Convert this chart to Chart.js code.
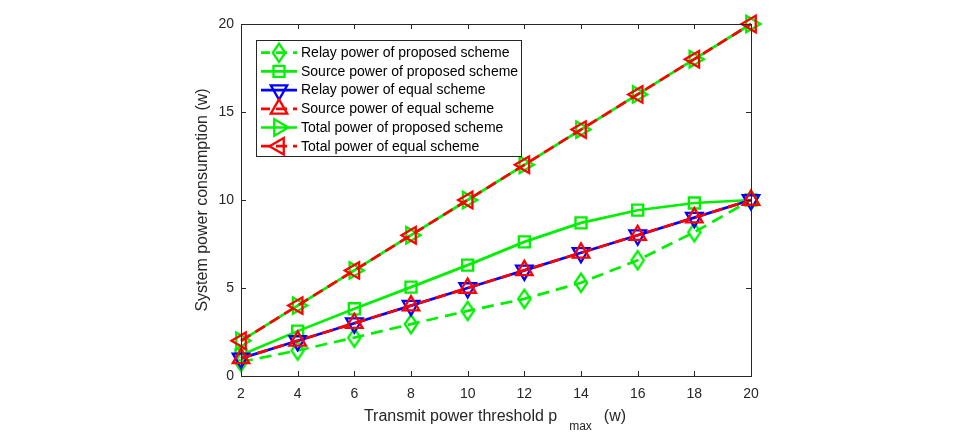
<!DOCTYPE html>
<html>
<head>
<meta charset="utf-8">
<script src="https://cdn.jsdelivr.net/npm/chart.js@4/dist/chart.umd.min.js"></script>
<style>
  html, body { margin: 0; padding: 0; background: #ffffff; }
  #wrap { width: 964px; height: 434px; position: relative; }
</style>
</head>
<body>
<div id="wrap"><canvas id="c" width="964" height="434"></canvas></div>
<script>
// ---- Data ----
const xValues = [2, 4, 6, 8, 10, 12, 14, 16, 18, 20];
const relayProposed  = [0.8, 1.45, 2.18, 2.95, 3.7, 4.38, 5.3, 6.58, 8.17, 10];
const sourceProposed = [1.2, 2.55, 3.82, 5.05, 6.3, 7.62, 8.7, 9.42, 9.83, 10];
const relayEqual     = [1, 2, 3, 4, 5, 6, 7, 8, 9, 10];
const sourceEqual    = [1, 2, 3, 4, 5, 6, 7, 8, 9, 10];
const totalProposed  = [2, 4, 6, 8, 10, 12, 14, 16, 18, 20];
const totalEqual     = [2, 4, 6, 8, 10, 12, 14, 16, 18, 20];
const seriesLabels = [
  'Relay power of proposed scheme',
  'Source power of proposed scheme',
  'Relay power of equal scheme',
  'Source power of equal scheme',
  'Total power of proposed scheme',
  'Total power of equal scheme'
];
const xTicks = [2, 4, 6, 8, 10, 12, 14, 16, 18, 20];
const yTicks = [0, 5, 10, 15, 20];
const xTitle = ['Transmit power threshold p', 'max', '(w)'];
const yTitle = 'System power consumption (w)';

// ---- Styles ----
const GREEN = '#00f000';
const BLUE = '#0000ff';
const RED = '#ff0000';
const AXIS = '#262626';
const FONT = '"Liberation Sans", Arial, Helvetica, sans-serif';
const DASH = [12, 7];
const MW = 2.3;

function makeDiamond(color) {
  const c = document.createElement('canvas');
  c.width = 18; c.height = 24;
  const g = c.getContext('2d');
  g.strokeStyle = color;
  g.lineWidth = MW;
  g.lineJoin = 'miter';
  g.beginPath();
  g.moveTo(9, 2.8); g.lineTo(15.2, 12); g.lineTo(9, 21.2); g.lineTo(2.8, 12);
  g.closePath();
  g.stroke();
  return c;
}
const diamondImg = makeDiamond(GREEN);

const styles = [
  { color: GREEN, dash: DASH, pointStyle: diamondImg, rotation: 0, radius: 9 },
  { color: GREEN, dash: [], pointStyle: 'rect', rotation: 0, radius: 7.8 },
  { color: BLUE, dash: [], pointStyle: 'triangle', rotation: 180, radius: 9.5 },
  { color: RED, dash: [11, 6], pointStyle: 'triangle', rotation: 0, radius: 9.5 },
  { color: GREEN, dash: [], pointStyle: 'triangle', rotation: 90, radius: 9.5 },
  { color: RED, dash: [11, 6], pointStyle: 'triangle', rotation: 270, radius: 9.5 }
];
const seriesValues = [relayProposed, sourceProposed, relayEqual, sourceEqual, totalProposed, totalEqual];

const datasets = seriesValues.map((vals, i) => ({
  label: seriesLabels[i],
  data: vals.map((v, j) => ({ x: xValues[j], y: v })),
  borderColor: styles[i].color,
  backgroundColor: 'rgba(0,0,0,0)',
  borderWidth: 2.7,
  borderDash: styles[i].dash,
  pointStyle: styles[i].pointStyle,
  pointRotation: styles[i].rotation,
  pointRadius: styles[i].radius,
  pointBorderWidth: MW,
  pointBorderColor: styles[i].color,
  pointBackgroundColor: 'rgba(0,0,0,0)',
  tension: 0,
  clip: false,
  order: 6 - i
}));

function drawMarker(ctx, st, x, y) {
  ctx.save();
  if (typeof st.pointStyle !== 'string') {
    ctx.drawImage(st.pointStyle, x - st.pointStyle.width / 2, y - st.pointStyle.height / 2);
  } else if (Chart.helpers && Chart.helpers.drawPoint) {
    ctx.strokeStyle = st.color;
    ctx.fillStyle = 'rgba(0,0,0,0)';
    ctx.lineWidth = MW;
    ctx.setLineDash([]);
    Chart.helpers.drawPoint(ctx, { pointStyle: st.pointStyle, radius: st.radius, rotation: st.rotation, borderWidth: MW }, x, y);
  }
  ctx.restore();
}

const framePlugin = {
  id: 'frame',
  afterDraw(chart) {
    const ctx = chart.ctx;
    const a = chart.chartArea;
    const xs = chart.scales.x, ys = chart.scales.y;
    ctx.save();
    // box
    ctx.strokeStyle = AXIS;
    ctx.lineWidth = 1;
    ctx.setLineDash([]);
    ctx.strokeRect(Math.round(a.left) + 0.5, Math.round(a.top) + 0.5,
                   Math.round(a.right - a.left), Math.round(a.bottom - a.top));
    // inward ticks
    const TL = 5;
    ctx.beginPath();
    xTicks.forEach(v => {
      const px = Math.round(xs.getPixelForValue(v)) + 0.5;
      ctx.moveTo(px, a.bottom); ctx.lineTo(px, a.bottom - TL);
      ctx.moveTo(px, a.top); ctx.lineTo(px, a.top + TL);
    });
    yTicks.forEach(v => {
      const py = Math.round(ys.getPixelForValue(v)) + 0.5;
      ctx.moveTo(a.left, py); ctx.lineTo(a.left + TL, py);
      ctx.moveTo(a.right, py); ctx.lineTo(a.right - TL, py);
    });
    ctx.stroke();

    // axis titles
    ctx.fillStyle = AXIS;
    ctx.textBaseline = 'middle';
    ctx.textAlign = 'left';
    const big = '16px ' + FONT, small = '12px ' + FONT;
    ctx.font = big;
    const w1 = ctx.measureText(xTitle[0]).width;
    const w3 = ctx.measureText(xTitle[2]).width;
    ctx.font = small;
    const w2 = ctx.measureText(xTitle[1]).width;
    const g1 = 12, g2 = 12;
    const total = w1 + g1 + w2 + g2 + w3;
    const sx = 495 - total / 2;
    const ty = 417;
    ctx.font = big;
    ctx.fillText(xTitle[0], sx, ty);
    ctx.font = small;
    ctx.fillText(xTitle[1], sx + w1 + g1, ty + 10);
    ctx.font = big;
    ctx.fillText(xTitle[2], sx + w1 + g1 + w2 + g2, ty);

    ctx.save();
    ctx.translate(203, (a.top + a.bottom) / 2);
    ctx.rotate(-Math.PI / 2);
    ctx.textAlign = 'center';
    ctx.fillText(yTitle, 0, 0);
    ctx.restore();

    // legend
    const lx = 256, ly = 40, lw = 265, lh = 116;
    ctx.fillStyle = '#ffffff';
    ctx.fillRect(lx, ly, lw, lh);
    ctx.strokeStyle = AXIS;
    ctx.lineWidth = 1;
    ctx.strokeRect(lx + 0.5, ly + 0.5, lw, lh);
    ctx.font = '14px ' + FONT;
    ctx.textAlign = 'left';
    ctx.textBaseline = 'middle';
    seriesLabels.forEach((lab, i) => {
      const y = 52.7 + 18.7 * i;
      const st = styles[i];
      ctx.save();
      ctx.strokeStyle = st.color;
      ctx.lineWidth = 2.7;
      ctx.setLineDash(st.dash.length ? [11, 6] : []);
      ctx.lineDashOffset = 2;
      ctx.beginPath();
      ctx.moveTo(261, y); ctx.lineTo(297, y);
      ctx.stroke();
      ctx.restore();
      drawMarker(ctx, st, 279, y);
      ctx.fillStyle = '#000000';
      ctx.fillText(lab, 301, y + 0.5);
    });
    ctx.restore();
  }
};

new Chart(document.getElementById('c'), {
  type: 'line',
  data: { datasets },
  options: {
    responsive: false,
    animation: false,
    devicePixelRatio: 1,
    layout: { padding: { left: 0, right: 213, top: 24, bottom: 0 } },
    plugins: { legend: { display: false }, tooltip: { enabled: false } },
    scales: {
      x: {
        type: 'linear',
        min: 2, max: 20,
        grid: { display: false, drawTicks: false },
        border: { display: false },
        afterBuildTicks(scale) { scale.ticks = xTicks.map(v => ({ value: v })); },
        afterFit(scale) { scale.height = 58; },
        ticks: { color: AXIS, font: { family: FONT, size: 14 }, padding: 10, maxRotation: 0, autoSkip: false }
      },
      y: {
        type: 'linear',
        min: 0, max: 20,
        grid: { display: false, drawTicks: false },
        border: { display: false },
        afterBuildTicks(scale) { scale.ticks = yTicks.map(v => ({ value: v })); },
        afterFit(scale) { scale.width = 241; },
        ticks: { color: AXIS, font: { family: FONT, size: 14 }, padding: 7 }
      }
    }
  },
  plugins: [framePlugin]
});
</script>
</body>
</html>
